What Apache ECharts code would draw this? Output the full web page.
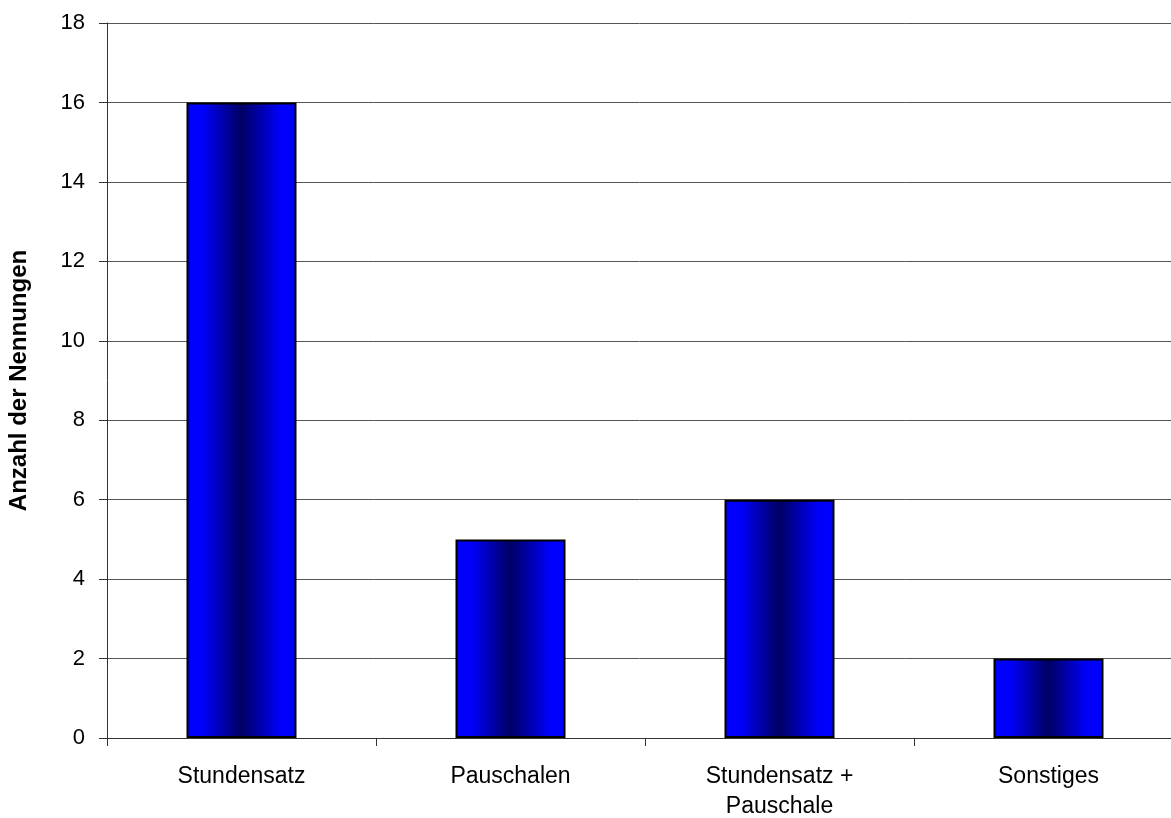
<!DOCTYPE html>
<html>
<head>
<meta charset="utf-8">
<script src="https://cdn.jsdelivr.net/npm/echarts@6/dist/echarts.min.js"></script>
<style>
html, body { margin: 0; padding: 0; background: #fff; }
#chart { width: 1171px; height: 818px; }
</style>
</head>
<body>
<div id="chart"></div>
<script>
var categories = ['Stundensatz', 'Pauschalen', 'Stundensatz +\nPauschale', 'Sonstiges'];
var counts = [16, 5, 6, 2];
var yTicks = { min: 0, max: 18, interval: 2 };

var myChart = echarts.init(document.getElementById('chart'));
// Balken mit Verlauf: blau aussen, dunkelblau in der Mitte
var barFill = new echarts.graphic.LinearGradient(0, 0, 1, 0, [
    { offset: 0, color: '#0000ff' },
    { offset: 0.15, color: '#0000fa' },
    { offset: 0.5, color: '#000064' },
    { offset: 0.85, color: '#0000fa' },
    { offset: 1, color: '#0000ff' }
]);
var option = {
    animation: false,
    // Zeichenflaeche laeuft rechts ueber den Rand hinaus (wie im Original)
    grid: { left: 107, top: 23, right: -12, bottom: 80, outerBoundsMode: 'none' },
    xAxis: {
        type: 'category',
        data: categories,
        axisLine: { lineStyle: { color: '#333', width: 1 } },
        axisTick: { show: true, length: 8, lineStyle: { color: '#333' } },
        axisLabel: {
            color: '#000',
            fontFamily: 'Liberation Sans, Arial',
            fontSize: 23,
            margin: 24,
            lineHeight: 30
        }
    },
    yAxis: {
        type: 'value',
        min: yTicks.min,
        max: yTicks.max,
        interval: yTicks.interval,
        name: 'Anzahl der Nennungen',
        nameLocation: 'middle',
        nameGap: 76,
        nameTextStyle: {
            color: '#000',
            fontFamily: 'Liberation Sans, Arial',
            fontSize: 24,
            fontWeight: 'bold'
        },
        axisLine: { show: true, lineStyle: { color: '#333', width: 1 } },
        axisTick: { show: true, length: 8, lineStyle: { color: '#333' } },
        axisLabel: {
            color: '#000',
            fontFamily: 'Liberation Sans, Arial',
            fontSize: 22,
            margin: 22
        },
        splitLine: { show: true, lineStyle: { color: '#555', width: 1 } }
    },
    series: [{
        type: 'bar',
        data: counts,
        barWidth: 110,
        itemStyle: {
            color: barFill,
            borderColor: '#000',
            borderWidth: 2
        }
    }]
};
myChart.setOption(option);
</script>
</body>
</html>
